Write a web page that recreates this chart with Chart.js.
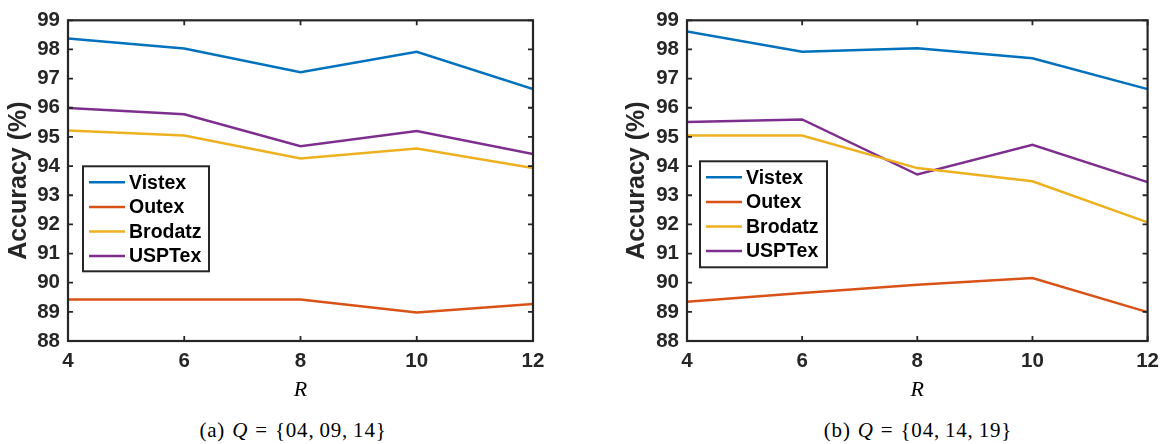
<!DOCTYPE html>
<html>
<head>
<meta charset="utf-8">
<script src="https://cdn.jsdelivr.net/npm/chart.js@4.4.1/dist/chart.umd.min.js"></script>
<style>
  html, body { margin: 0; padding: 0; background: #fff; }
  body { width: 1167px; height: 444px; position: relative; overflow: hidden; }
  .wrap { position: absolute; top: 0; }
  .cap { position: absolute; top: 418px; width: 400px; text-align: center;
         font-family: "Liberation Serif", "Times New Roman", serif; font-size: 21px; color: #000;
         white-space: nowrap; letter-spacing: 0.8px; word-spacing: 1px; }
  .cap i { font-style: italic; }
</style>
</head>
<body>
<div class="wrap" style="left:0px;"><canvas id="chartA" width="580" height="410"></canvas></div>
<div class="wrap" style="left:600px;"><canvas id="chartB" width="567" height="410"></canvas></div>
<div class="cap" style="left:93px;">(a) <i>Q</i> = {04,&thinsp;09,&thinsp;14}</div>
<div class="cap" style="left:718px;">(b) <i>Q</i> = {04,&thinsp;14,&thinsp;19}</div>
<script>
// ---------- data ----------
const rValues = [4, 6, 8, 10, 12];
const seriesNames = ['Vistex', 'Outex', 'Brodatz', 'USPTex'];

const vistexA  = [98.38, 98.03, 97.22, 97.92, 96.64];
const outexA   = [89.42, 89.42, 89.42, 88.98, 89.27];
const brodatzA = [95.22, 95.05, 94.26, 94.60, 93.93];
const usptexA  = [95.99, 95.78, 94.68, 95.20, 94.41];

const vistexB  = [98.62, 97.92, 98.04, 97.70, 96.64];
const outexB   = [89.35, 89.65, 89.93, 90.16, 88.99];
const brodatzB = [95.05, 95.05, 93.93, 93.48, 92.07];
const usptexB  = [95.51, 95.60, 93.71, 94.73, 93.45];

const yMin = 88, yMax = 99, yStep = 1;
const xMin = 4, xMax = 12, xStep = 2;

const yTitle = 'Accuracy (%)';
const xTitle = 'R';

// ---------- styles ----------
const seriesColors = ['#0072BD', '#D95319', '#EDB120', '#7E2F8E'];
const axisColor = '#262626';
const sansFamily = '"Liberation Sans", Arial, Helvetica, sans-serif';

// Box + inward tick marks (MATLAB style)
const boxPlugin = {
  id: 'matBox',
  afterDatasetsDraw(chart) {
    const ctx = chart.ctx, a = chart.chartArea;
    const xs = chart.scales.x, ys = chart.scales.y;
    const L = 5;
    ctx.save();
    ctx.strokeStyle = axisColor;
    ctx.lineWidth = 1.8;
    ctx.beginPath();
    xs.ticks.forEach(t => {
      const px = xs.getPixelForValue(t.value);
      ctx.moveTo(px, a.bottom); ctx.lineTo(px, a.bottom - L);
      ctx.moveTo(px, a.top); ctx.lineTo(px, a.top + L);
    });
    ys.ticks.forEach(t => {
      const py = ys.getPixelForValue(t.value);
      ctx.moveTo(a.left, py); ctx.lineTo(a.left + L, py);
      ctx.moveTo(a.right, py); ctx.lineTo(a.right - L, py);
    });
    ctx.stroke();
    ctx.lineWidth = 2.2;
    ctx.strokeRect(a.left, a.top, a.right - a.left, a.bottom - a.top);
    ctx.restore();
  }
};

// Legend box drawn from the datasets
const legendPlugin = {
  id: 'matLegend',
  afterDraw(chart, args, opts) {
    const ctx = chart.ctx, a = chart.chartArea;
    const bx = a.left + opts.x, by = a.top + opts.y;
    ctx.save();
    ctx.fillStyle = '#fff';
    ctx.fillRect(bx, by, opts.w, opts.h);
    ctx.strokeStyle = axisColor;
    ctx.lineWidth = 2;
    ctx.strokeRect(bx, by, opts.w, opts.h);
    ctx.font = 'bold 19.5px ' + sansFamily;
    ctx.textBaseline = 'middle';
    ctx.textAlign = 'left';
    chart.data.datasets.forEach((ds, i) => {
      const cy = by + 16 + i * 24.6;
      ctx.strokeStyle = ds.borderColor;
      ctx.lineWidth = 2.5;
      ctx.beginPath();
      ctx.moveTo(bx + 6, cy); ctx.lineTo(bx + 42, cy);
      ctx.stroke();
      ctx.fillStyle = '#000';
      ctx.fillText(ds.label, bx + 46, cy + 1);
    });
    ctx.restore();
  }
};

function makeChart(id, seriesList, cfg) {
  const datasets = seriesList.map((vals, i) => ({
    label: seriesNames[i],
    data: rValues.map((r, j) => ({ x: r, y: vals[j] })),
    borderColor: seriesColors[i],
    backgroundColor: seriesColors[i],
    borderWidth: 2.5,
    pointRadius: 0,
    tension: 0,
    fill: false
  }));
  return new Chart(document.getElementById(id), {
    type: 'line',
    data: { datasets },
    plugins: [boxPlugin, legendPlugin],
    options: {
      responsive: false,
      animation: false,
      layout: { padding: { left: 0, right: cfg.padRight, top: 14, bottom: 0 } },
      plugins: {
        legend: { display: false },
        tooltip: { enabled: false },
        matLegend: cfg.legend
      },
      scales: {
        x: {
          type: 'linear', min: xMin, max: xMax,
          grid: { display: false, drawTicks: false },
          border: { display: false },
          ticks: { stepSize: xStep, padding: 8, color: axisColor,
                   font: { family: sansFamily, size: 20.5, weight: 'bold' } },
          title: { display: true, text: xTitle, color: '#000',
                   font: { family: '"Liberation Serif", "Times New Roman", serif', size: 22, style: 'italic', weight: 'normal' },
                   padding: { top: 0, bottom: 7 } },
          afterFit: s => { s.height = 69; }
        },
        y: {
          type: 'linear', min: yMin, max: yMax,
          grid: { display: false, drawTicks: false },
          border: { display: false },
          ticks: { stepSize: yStep, padding: 8, color: axisColor,
                   font: { family: sansFamily, size: 20.5, weight: 'bold' } },
          title: { display: true, text: yTitle, color: axisColor,
                   font: { family: sansFamily, size: 25, weight: 'bold' },
                   padding: { top: cfg.titlePad, bottom: 0 } },
          afterFit: s => { s.width = cfg.axisWidth; }
        }
      }
    }
  });
}

makeChart('chartA', [vistexA, outexA, brodatzA, usptexA],
  { padRight: 47, axisWidth: 68, titlePad: 4, legend: { x: 15, y: 146, w: 126, h: 105 } });
makeChart('chartB', [vistexB, outexB, brodatzB, usptexB],
  { padRight: 15, axisWidth: 87, titlePad: 22, legend: { x: 13, y: 141, w: 127, h: 106 } });
</script>
</body>
</html>
